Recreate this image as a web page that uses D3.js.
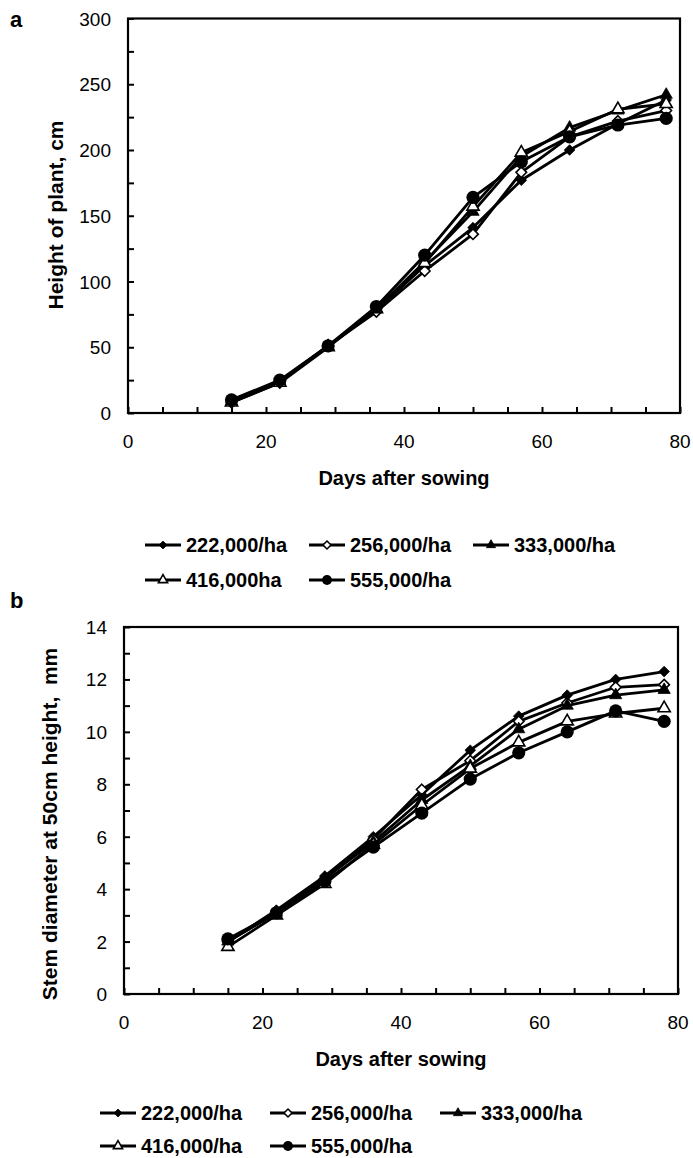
<!DOCTYPE html>
<html>
<head>
<meta charset="utf-8">
<script src="https://cdn.jsdelivr.net/npm/d3@7"></script>
<style>
  body { margin: 0; background: #fff; }
  svg text { font-family: "Liberation Sans", Arial, sans-serif; fill: #000; }
</style>
</head>
<body>
<svg width="693" height="1158"></svg>
<script>
// days after sowing
const days = [15, 22, 29, 36, 43, 50, 57, 64, 71, 78];
const seriesNames = ["222,000/ha", "256,000/ha", "333,000/ha", "416,000ha", "555,000/ha"];
const seriesNamesB = ["222,000/ha", "256,000/ha", "333,000/ha", "416,000/ha", "555,000/ha"];
const markerTypes = ["diamondFilled", "diamondOpen", "triangleFilled", "triangleOpen", "circleFilled"];

// panel a: plant height (cm)
const height222 = [9, 24, 51, 78, 112, 141, 177, 200, 220, 238];
const height256 = [8, 23, 51, 77, 108, 136, 183, 210, 222, 230];
const height333 = [9, 24, 51, 79, 115, 153, 195, 217, 230, 242];
const height416 = [8, 23, 50, 79, 114, 157, 198, 214, 231, 235];
const height555 = [10, 25, 51, 81, 120, 164, 191, 210, 219, 224];

// panel b: stem diameter at 50cm (mm)
const stem222 = [2.0, 3.2, 4.5, 6.0, 7.6, 9.3, 10.6, 11.4, 12.0, 12.3];
const stem256 = [2.0, 3.1, 4.4, 5.9, 7.8, 8.9, 10.4, 11.1, 11.7, 11.8];
const stem333 = [2.0, 3.1, 4.4, 5.8, 7.4, 8.7, 10.1, 11.0, 11.4, 11.6];
const stem416 = [1.8, 3.0, 4.2, 5.7, 7.2, 8.6, 9.6, 10.4, 10.7, 10.9];
const stem555 = [2.1, 3.1, 4.3, 5.6, 6.9, 8.2, 9.2, 10.0, 10.8, 10.4];

const xTicks = [0, 20, 40, 60, 80];
const heightTicks = [0, 50, 100, 150, 200, 250, 300];
const stemTicks = [0, 2, 4, 6, 8, 10, 12, 14];

const svg = d3.select("svg");

function drawMarker(g, type, x, y, s) {
    // s = overall marker size
    if (type.startsWith("circle")) {
        g.append("circle").attr("cx", x).attr("cy", y).attr("r", s * 0.55)
            .attr("fill", "#000");
        return;
    }
    let sym = type.startsWith("diamond")
        ? d3.symbol(d3.symbolDiamond2, s * s * 0.5)
        : d3.symbol(d3.symbolTriangle, s * s * 0.45);
    const open = type.endsWith("Open");
    g.append("path")
        .attr("d", sym())
        .attr("transform", "translate(" + x + "," + y + ")")
        .attr("fill", open ? "#fff" : "#000")
        .attr("stroke", "#000")
        .attr("stroke-width", open ? 1.6 : 0.8);
}

function panel(opt) {
    const x = d3.scaleLinear().domain([0, 80]).range([opt.left, opt.right]);
    const y = d3.scaleLinear().domain([0, opt.yMax]).range([opt.bottom, opt.top]);
    const g = svg.append("g");

    // frame
    g.append("rect")
        .attr("x", opt.left).attr("y", opt.top)
        .attr("width", opt.right - opt.left).attr("height", opt.bottom - opt.top)
        .attr("fill", "none").attr("stroke", "#000").attr("stroke-width", 2.2);

    // x axis (ticks inside)
    g.append("g")
        .attr("transform", "translate(0," + opt.bottom + ")")
        .call(d3.axisBottom(x).tickValues(d3.range(0, 81, 5)).tickSize(-6).tickFormat(""))
        .call(a => a.select(".domain").remove())
        .call(a => a.selectAll("line").attr("stroke-width", 2));
    g.selectAll(".xlab").data(xTicks).enter().append("text")
        .attr("x", d => x(d)).attr("y", opt.bottom + 35)
        .attr("text-anchor", "middle").style("font-size", "19px")
        .text(d => d);

    // y axis
    g.append("g")
        .attr("transform", "translate(" + opt.left + ",0)")
        .call(d3.axisLeft(y).tickValues(d3.range(0, opt.yMax + 0.001, opt.yMinor)).tickSize(-6).tickFormat(""))
        .call(a => a.select(".domain").remove())
        .call(a => a.selectAll("line").attr("stroke-width", 2));
    g.selectAll(".ylab").data(opt.yTicks).enter().append("text")
        .attr("x", opt.left - 17).attr("y", d => y(d) + 7)
        .attr("text-anchor", "end").style("font-size", "19px")
        .text(d => d);

    // titles
    g.append("text")
        .attr("x", (opt.left + opt.right) / 2).attr("y", opt.bottom + 72)
        .attr("text-anchor", "middle").style("font-size", "20px").style("font-weight", "bold")
        .text("Days after sowing");
    g.append("text")
        .attr("transform", "translate(" + opt.yTitleX + "," + opt.yTitleY + ") rotate(-90)")
        .attr("text-anchor", "middle").style("font-size", "21px").style("font-weight", "bold")
        .style("white-space", "pre")
        .text(opt.yTitle);
    g.append("text")
        .attr("x", 10).attr("y", opt.letterY)
        .style("font-size", "22px").style("font-weight", "bold")
        .text(opt.letter);

    const line = d3.line().x((d, i) => x(days[i])).y(d => y(d));

    // lines first, then markers on top
    opt.series.forEach(s => {
        g.append("path").datum(s)
            .attr("fill", "none").attr("stroke", "#000")
            .attr("stroke-width", 2.8).attr("stroke-linejoin", "round")
            .attr("d", line);
    });
    opt.series.forEach((s, k) => {
        s.forEach((v, i) => drawMarker(g, markerTypes[k], x(days[i]), y(v), 12));
    });

    // legend
    const lg = svg.append("g");
    opt.names.forEach((name, k) => {
        const col = k % 3, row = Math.floor(k / 3);
        const lx = opt.legendX + col * opt.legendStep;
        const ly = opt.legendY + row * opt.legendRow;
        lg.append("line")
            .attr("x1", lx).attr("x2", lx + 36).attr("y1", ly).attr("y2", ly)
            .attr("stroke", "#000").attr("stroke-width", 2.8);
        drawMarker(lg, markerTypes[k], lx + 18, ly, 9);
        lg.append("text")
            .attr("x", lx + 41).attr("y", ly + 7)
            .style("font-size", "20px").style("font-weight", "bold")
            .text(name);
    });
}

panel({
    left: 128, right: 680, top: 18.5, bottom: 413,
    yMax: 300, yMinor: 25, yTicks: heightTicks,
    yTitle: "Height of plant, cm", yTitleX: 63, yTitleY: 215, letter: "a", letterY: 27,
    series: [height222, height256, height333, height416, height555],
    names: seriesNames,
    legendX: 145, legendY: 545, legendStep: 164, legendRow: 35
});

panel({
    left: 124, right: 678, top: 627, bottom: 994,
    yMax: 14, yMinor: 1, yTicks: stemTicks,
    yTitle: "Stem diameter at 50cm height,  mm", yTitleX: 57, yTitleY: 824, letter: "b", letterY: 608,
    series: [stem222, stem256, stem333, stem416, stem555],
    names: seriesNamesB,
    legendX: 100, legendY: 1113, legendStep: 170, legendRow: 33
});
</script>
</body>
</html>
